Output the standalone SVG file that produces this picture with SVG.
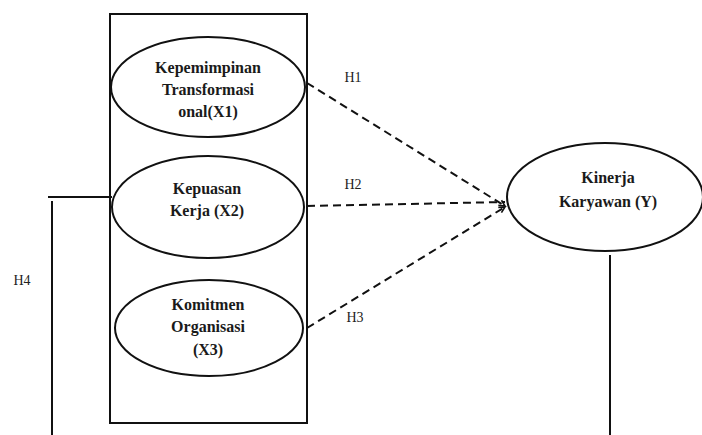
<svg xmlns="http://www.w3.org/2000/svg" width="702" height="435" viewBox="0 0 702 435">
<style>
.sh{fill:#fff;stroke:#111;stroke-width:2}
.t{font-family:"Liberation Serif","DejaVu Serif",serif;font-weight:bold;font-size:16px;fill:#1a1a1a;text-anchor:middle}
.h{font-family:"Liberation Serif","DejaVu Serif",serif;font-size:14px;fill:#222;text-anchor:middle}
.ln{stroke:#111;stroke-width:2;fill:none}
.d{stroke:#111;stroke-width:2;fill:none;stroke-dasharray:8 5}
</style>
<defs>
<marker id="ah" markerWidth="10" markerHeight="10" refX="8" refY="5" orient="auto" markerUnits="userSpaceOnUse">
<path d="M2,2 L8,5 L2,8" fill="none" stroke="#111" stroke-width="1.6"/>
</marker>
</defs>
<rect x="110" y="14" width="197" height="409" fill="#fff" stroke="#111" stroke-width="2"/>
<g id="connectors">
<line class="d" x1="307" y1="83" x2="505" y2="206" marker-end="url(#ah)"/>
<line class="d" x1="307" y1="206" x2="505" y2="202"/>
<line class="d" x1="307" y1="328" x2="505" y2="207" marker-end="url(#ah)"/>
<line class="ln" x1="48" y1="197" x2="112" y2="197"/>
<line class="ln" x1="52" y1="201" x2="52" y2="435"/>
<line class="ln" x1="610" y1="255" x2="610" y2="435"/>
<text class="h" x="353" y="82">H1</text>
<text class="h" x="353" y="189">H2</text>
<text class="h" x="355" y="322">H3</text>
<text class="h" x="22" y="285">H4</text>
</g>
<g id="x1">
<ellipse class="sh" cx="208" cy="87" rx="97" ry="50"/>
<text class="t" x="208" y="73">Kepemimpinan</text>
<text class="t" x="208" y="95">Transformasi</text>
<text class="t" x="208" y="117">onal(X1)</text>
</g>
<g id="x2">
<ellipse class="sh" cx="208" cy="207" rx="96" ry="51"/>
<text class="t" x="207" y="194">Kepuasan</text>
<text class="t" x="207" y="216">Kerja (X2)</text>
</g>
<g id="x3">
<ellipse class="sh" cx="209" cy="328" rx="94" ry="48"/>
<text class="t" x="208" y="310">Komitmen</text>
<text class="t" x="208" y="332">Organisasi</text>
<text class="t" x="208" y="355">(X3)</text>
</g>
<g id="y">
<ellipse class="sh" cx="605" cy="197" rx="98" ry="54"/>
<text class="t" x="608" y="183">Kinerja</text>
<text class="t" x="608" y="207">Karyawan (Y)</text>
</g>
</svg>
